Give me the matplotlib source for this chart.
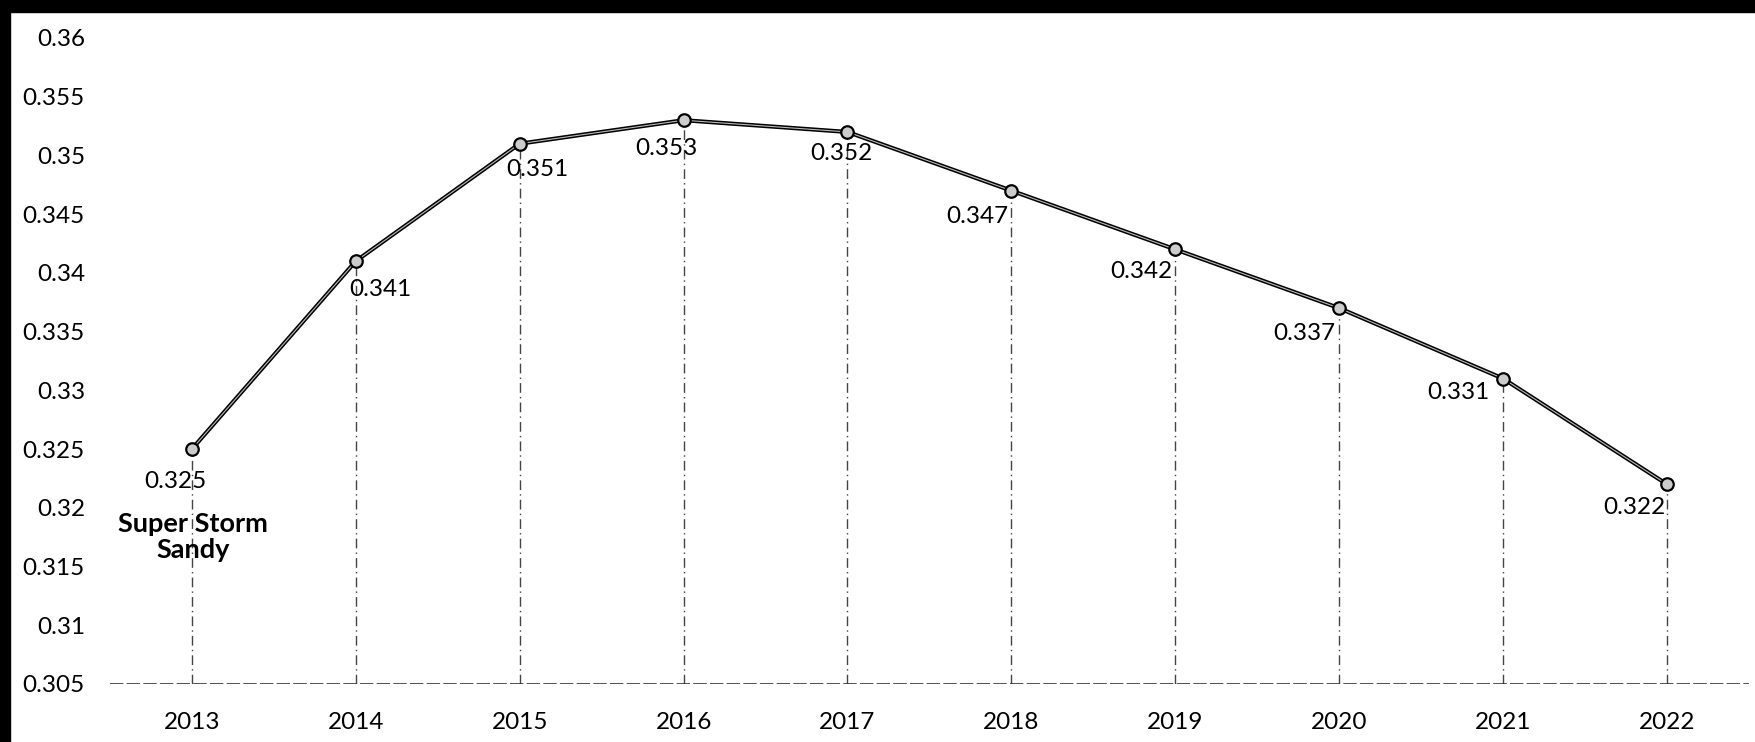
import numpy as np
import matplotlib.pyplot as plt
from matplotlib.patches import Rectangle

# values
years = ['2013', '2014', '2015', '2016', '2017', '2018', '2019', '2020', '2021', '2022']
values = [0.325, 0.341, 0.351, 0.353, 0.352, 0.347, 0.342, 0.337, 0.331, 0.322]
yticks = [0.305, 0.31, 0.315, 0.32, 0.325, 0.33, 0.335, 0.34, 0.345, 0.35, 0.355, 0.36]
# label offsets in pixels (dx, dy) relative to each point
label_offsets = [(-17, -32), (25, -28), (18, -26), (-17, -28), (-6, -22),
                 (-34, -26), (-34, -22), (-35, -25), (-45, -14), (-33, -23)]
note = 'Super Storm\nSandy'

plt.rcParams['font.family'] = ['Lato', 'DejaVu Sans']

fig = plt.figure(figsize=(17.56, 7.42), dpi=100)
ax = fig.add_axes([0.0626, 0.0782, 0.9334, 0.8706])

x = np.arange(len(years))
ax.vlines(x, yticks[0], values, colors='#444444', linestyles=(0, (7, 3, 1, 3)), lw=1.0, zorder=1)
ax.axhline(yticks[0], color='#333333', ls=(0, (8, 2)), lw=1.2, zorder=1)
ax.plot(x, values, color='black', lw=3, zorder=2)
ax.plot(x, values, color='#bbbbbb', lw=0.8, zorder=3)
ax.plot(x, values, ls='none', marker='o', ms=9, mfc='#cccccc', mec='black', mew=1.6, zorder=4)

for xi, v, (dx, dy) in zip(x, values, label_offsets):
    ax.annotate(f'{v:.3f}', (xi, v), xytext=(dx, dy), textcoords='offset pixels',
                ha='center', va='center', fontsize=17.5, color='black')

ax.annotate(note, (0, values[0]), xytext=(1, -88), textcoords='offset pixels',
            ha='center', va='center', fontsize=19.5, fontweight='bold', linespacing=1.1)

ax.set_xlim(-0.5, len(years) - 0.5)
ax.set_ylim(yticks[0], yticks[-1])
ax.set_xticks(x)
ax.set_xticklabels(years)
ax.set_yticks(yticks)
ax.set_yticklabels([f'{t:g}' for t in yticks])
ax.tick_params(axis='both', length=0, labelsize=17.5)
ax.tick_params(axis='x', pad=20)
ax.tick_params(axis='y', pad=18)
for s in ax.spines.values():
    s.set_visible(False)

# dark scan border along the top and left edges
fig.patches.append(Rectangle((0, 1 - 12 / 742), 1, 12 / 742, transform=fig.transFigure,
                             color='black', zorder=10))
fig.patches.append(Rectangle((0, 0), 10 / 1756, 1, transform=fig.transFigure,
                             color='black', zorder=10))

fig.savefig('out.png', dpi=100)
